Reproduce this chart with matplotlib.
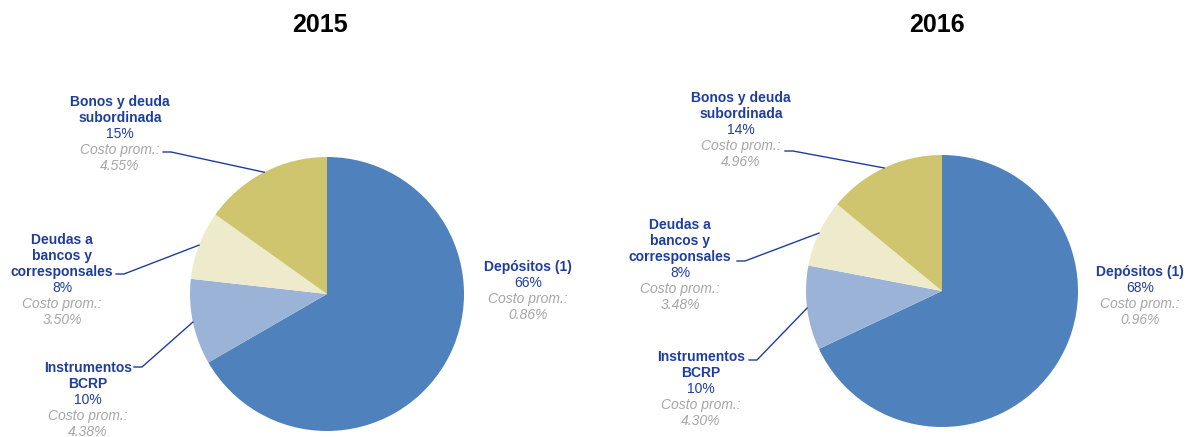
import numpy as np
import matplotlib.pyplot as plt

plt.rcParams['font.family'] = ['Liberation Sans', 'DejaVu Sans']

# data
years = ['2015', '2016']
categories = ['Depósitos (1)', 'Instrumentos\nBCRP', 'Deudas a\nbancos y\ncorresponsales',
              'Bonos y deuda\nsubordinada']
share_2015 = [66, 10, 8, 15]
share_2016 = [68, 10, 8, 14]
cost_2015 = [0.86, 4.38, 3.50, 4.55]
cost_2016 = [0.96, 4.30, 3.48, 4.96]

colors = ['#4F81BD', '#9BB3D7', '#EEEBCD', '#CFC56E']
blue_txt = '#1F3E9C'
grey_txt = '#A6A6A6'

W, H = 1187, 437
fig = plt.figure(figsize=(W / 100, H / 100), dpi=100)
ax = fig.add_axes([0, 0, 1, 1])

# layout in pixel coords (x, y from top)
pies = [dict(center=(327, 294), r=137, title=(320, 25),
             labels=[(528, 267), (88, 368), (62, 240), (120, 102)],
             leaders=[None, (134, 367), (116, 274), (163, 152)]),
        dict(center=(942, 291), r=136, title=(937, 25),
             labels=[(1140, 272), (701, 357), (680, 225), (741, 98)],
             leaders=[None, (749, 360), (737, 261), (785, 151)])]

shares = [share_2015, share_2016]
costs = [cost_2015, cost_2016]
step = 16

for k, p in enumerate(pies):
    cx, cy = p['center']
    wedges, _ = ax.pie(shares[k], colors=colors, startangle=90, counterclock=False,
                       center=(cx, H - cy), radius=p['r'],
                       wedgeprops=dict(linewidth=0))
    tx, ty = p['title']
    ax.text(tx, H - ty, years[k], ha='center', va='center', fontsize=18,
            fontweight='bold', color='black')

    for i, cat in enumerate(categories):
        lx, ly = p['labels'][i]
        lines = cat.split('\n')
        y = ly
        for ln in lines:
            ax.text(lx, H - y, ln, ha='center', va='center', fontsize=10,
                    fontweight='bold', color=blue_txt)
            y += step
        ax.text(lx, H - y, f'{shares[k][i]}%', ha='center', va='center',
                fontsize=10, color=blue_txt)
        y += step
        ax.text(lx, H - y, 'Costo prom.:', ha='center', va='center', fontsize=10,
                style='italic', color=grey_txt)
        y += step
        ax.text(lx, H - y, f'{costs[k][i]:.2f}%', ha='center', va='center',
                fontsize=10, style='italic', color=grey_txt)

        if p['leaders'][i] is not None:
            w = wedges[i]
            ang = np.deg2rad((w.theta1 + w.theta2) / 2)
            ex = cx + p['r'] * np.cos(ang)
            ey = (H - cy) + p['r'] * np.sin(ang)
            sx, sy = p['leaders'][i]
            ax.plot([sx, sx + 8, ex], [H - sy, H - sy, ey], color=blue_txt, lw=1)

ax.set_xlim(0, W)
ax.set_ylim(0, H)
ax.set_aspect('equal')
ax.axis('off')

fig.savefig('out.png', dpi=100)
